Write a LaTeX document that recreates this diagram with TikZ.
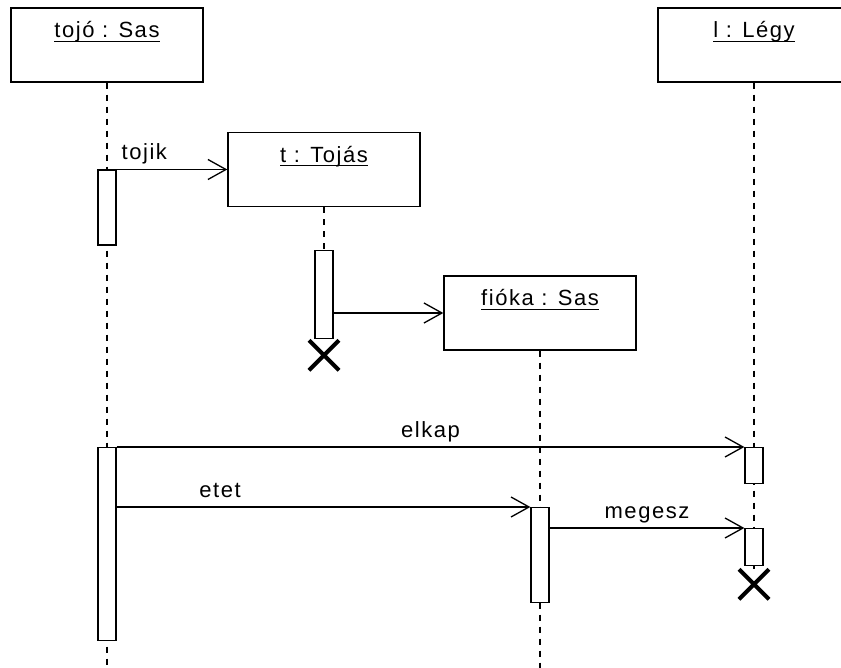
\documentclass[tikz,border=0pt]{standalone}
\usepackage{fontspec}
\setmainfont{Liberation Sans}[LetterSpace=7]
\usetikzlibrary{arrows.meta,positioning,shapes.misc,backgrounds}
\newcommand{\uname}[1]{\setbox0\hbox{#1}\rlap{\rule[-4pt]{\wd0}{1.3pt}}\box0}

\begin{document}
\begin{tikzpicture}[x=1pt,y=-1pt,
  obj/.style={rectangle,draw,line width=1.4pt,inner sep=0pt,minimum width=192pt,text height=30pt,text depth=44pt,font=\fontsize{22}{26}\selectfont},
  act/.style={rectangle,draw,fill=white,line width=1.3pt,minimum width=18pt,inner sep=0pt,anchor=north},
  life/.style={line width=1.3pt,dash pattern=on 6pt off 6pt},
  msg/.style={-{Straight Barb[length=18pt,width=20pt]},line width=1.3pt},
  lbl/.style={anchor=base,yshift=10pt,inner sep=0pt,font=\fontsize{22}{26}\selectfont},
  kill/.style={cross out,draw,line width=4pt,minimum size=26pt,inner sep=0pt}]
  \useasboundingbox (0,0) rectangle (841,668);
  % objects
  \node[obj] (tojo)  at (107,45)    {\uname{tojó : Sas}};
  \node[obj] (legy)  at (754,45)    {\uname{l : Légy}};
  \node[obj] (tojas) at (324,169.5) {\uname{t : Tojás}};
  \node[obj] (fioka) at (540,313)   {\uname{fióka : Sas}};
  % activations
  \node[act,minimum height=75pt]  (a1) at (tojo |- tojas.west) {};
  \node[act,minimum height=88pt]  (b1) at (tojas |- 0,250) {};
  \node[act,minimum height=193pt] (a2) at (tojo |- 0,447) {};
  \node[act,minimum height=95pt]  (d1) at (fioka |- 0,507) {};
  \node[act,minimum height=36pt]  (c1) at (legy |- 0,447) {};
  \node[act,minimum height=37pt]  (c2) at (legy |- 0,528) {};
  \node[kill,below=1pt of b1] (xb) {};
  \node[kill,below=3pt of c2] (xc) {};
  % lifelines
  \begin{scope}[on background layer]
    \draw[life] (tojo.south) -- (tojo.south |- 0,668);
    \draw[life] (legy.south) -- (xc.north);
    \draw[life] (tojas.south) -- (b1.north);
    \draw[life] (fioka.south) -- (fioka.south |- 0,668);
  \end{scope}
  % messages
  \draw[msg] (a1.north east) -- node[lbl,pos=0.25]{tojik} (tojas.west);
  \draw[msg] (b1.east |- fioka.west) -- (fioka.west);
  \draw[msg] (a2.north east) -- node[lbl]{elkap} (c1.north west);
  \draw[msg] (a2.east |- d1.north) -- node[lbl,pos=0.25]{etet} (d1.north west);
  \draw[msg] (d1.east |- c2.north) -- node[lbl]{megesz} (c2.north west);
\end{tikzpicture}
\end{document}
